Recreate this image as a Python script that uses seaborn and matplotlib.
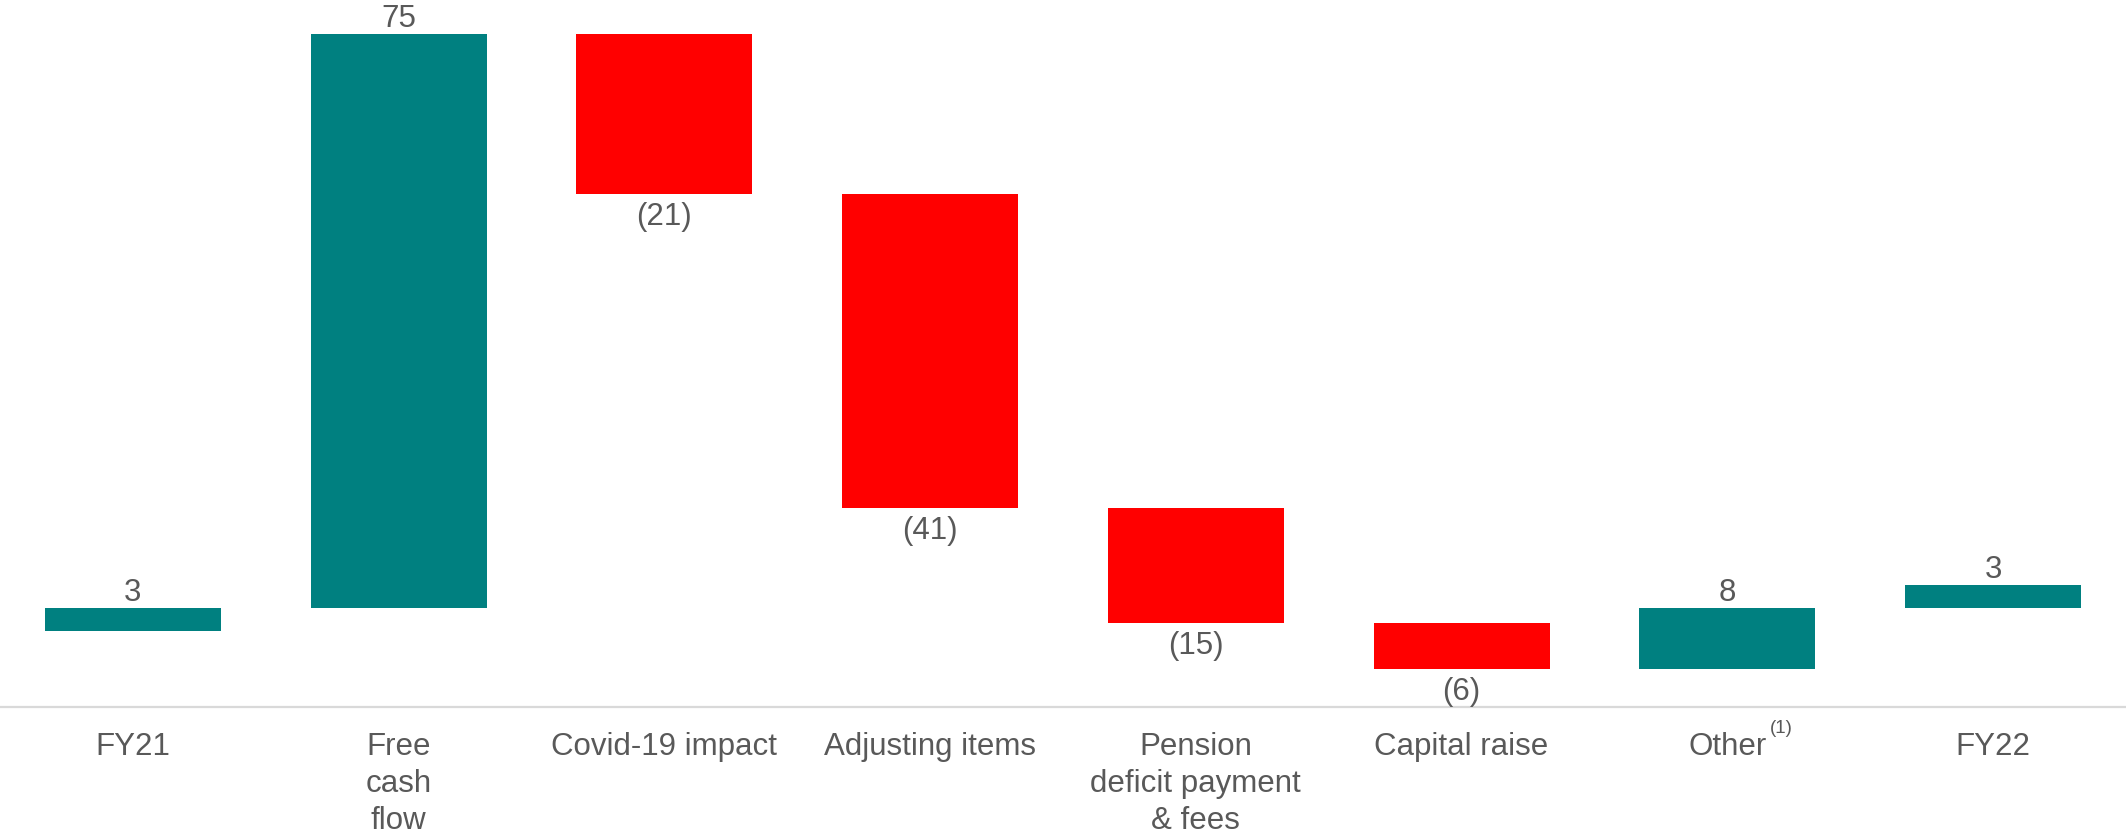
import numpy as np
import pandas as pd
import matplotlib
matplotlib.use("Agg")
import matplotlib.pyplot as plt
import seaborn as sns

# ---------------- data ----------------
categories = ["FY21", "Free\ncash\nflow", "Covid-19 impact", "Adjusting items",
              "Pension\ndeficit payment\n& fees", "Capital raise", "Other", "FY22"]
# signed movements; first and last entries are the opening / closing positions
changes = [3, 75, -21, -41, -15, -6, 8, 3]
is_total = [True, False, False, False, False, False, False, True]
footnote_marks = ["", "", "", "", "", "", "(1)", ""]

TEAL = "#008080"
RED = "#FF0000"
GREY_TXT = "#595959"

# waterfall layout: opening position drawn hanging from zero, movements
# accumulate from zero, closing position drawn up from zero.
bottoms, heights = [], []
running = 0.0
for i, (v, tot) in enumerate(zip(changes, is_total)):
    if tot and i == 0:
        bottoms.append(0.0)
        heights.append(-v)
    elif tot:
        bottoms.append(0.0)
        heights.append(v)
    else:
        bottoms.append(running)
        heights.append(v)
        running += v
colors = [TEAL if (tot or v >= 0) else RED for v, tot in zip(changes, is_total)]

df = pd.DataFrame({"cat": categories, "h": heights})

# ---------------- plot ----------------
sns.set_theme(style="white")
plt.rcParams["font.family"] = ["Liberation Sans", "DejaVu Sans"]

FS = 22.5

fig = plt.figure(figsize=(21.26, 8.32), dpi=100)
ax = fig.add_axes([0.0, 0.1508, 1.0, 0.8492])

sns.barplot(data=df, x="cat", y="h", order=categories, estimator="sum",
            errorbar=None, width=0.663, bottom=np.array(bottoms), ax=ax,
            color=TEAL, linewidth=0, saturation=1)
for patch, c in zip(ax.patches, colors):
    patch.set_facecolor(c)
    patch.set_edgecolor("none")

ax.set_xlim(-0.5, len(categories) - 0.5)
ax.set_ylim(-12.88, 79.4)

# value labels
for i, (v, tot, b, h) in enumerate(zip(changes, is_total, bottoms, heights)):
    top = max(b, b + h)
    low = min(b, b + h)
    if tot or v >= 0:
        txt = f"{abs(v):g}"
        ax.annotate(txt, xy=(i, top), xytext=(0, 4.7), textcoords="offset points",
                    ha="center", va="baseline", fontsize=FS, color=GREY_TXT)
    else:
        txt = f"({abs(v):g})"
        ax.annotate(txt, xy=(i, low), xytext=(0, -22.2), textcoords="offset points",
                    ha="center", va="baseline", fontsize=FS, color=GREY_TXT)

# axes styling
for s in ["left", "right", "top"]:
    ax.spines[s].set_visible(False)
ax.spines["bottom"].set_color("#d9d9d9")
ax.spines["bottom"].set_linewidth(1.6)
ax.set_yticks([])
ax.set_xlabel("")
ax.set_ylabel("")
ax.set_xticks(range(len(categories)))
ax.set_xticklabels(categories, fontsize=FS, color=GREY_TXT, linespacing=1.29,
                   multialignment="center")
ax.tick_params(axis="x", length=0, pad=18.5)
ax.grid(False)

# footnote superscripts next to tick labels
for i, mark in enumerate(footnote_marks):
    if mark:
        ax.annotate(mark, xy=(i, 0), xycoords=("data", "axes fraction"),
                    xytext=(30.6, -18.7), textcoords="offset points",
                    ha="left", va="baseline", fontsize=13.5, color=GREY_TXT)

fig.savefig("out.png", dpi=100, facecolor="white")
